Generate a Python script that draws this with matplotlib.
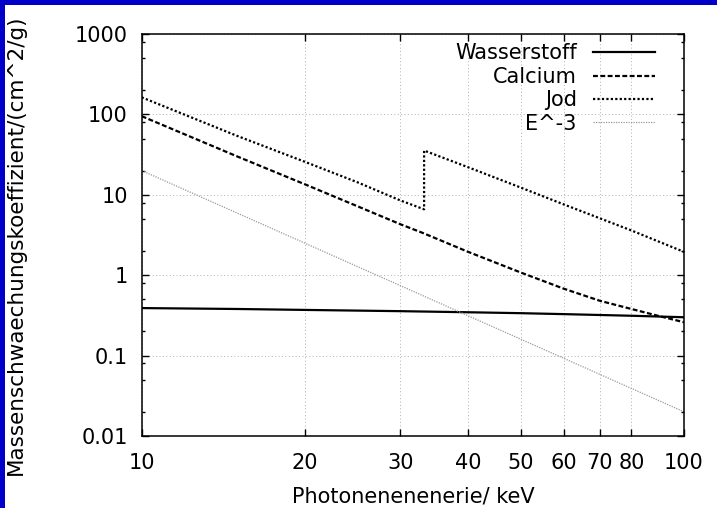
import matplotlib
matplotlib.use("Agg")
import matplotlib.pyplot as plt
from matplotlib.patches import Rectangle
from matplotlib.ticker import FixedLocator, NullFormatter, NullLocator

plt.rcParams['font.family'] = ['DejaVu Sans']

# Mass attenuation coefficients (cm^2/g) vs photon energy (keV)
energy_h = [10, 15, 20, 30, 40, 50, 60, 80, 100]
mu_wasserstoff = [0.39, 0.38, 0.37, 0.357, 0.346, 0.337, 0.328, 0.313, 0.30]

energy_ca = [10, 15, 20, 25, 30, 33, 40, 50, 60, 70, 80, 90, 100]
mu_calcium = [95, 30, 13.5, 7.2, 4.3, 3.35, 1.95, 1.08, 0.68, 0.48, 0.38, 0.31, 0.26]

energy_i = [10, 15, 20, 25, 30, 33.17, 33.17, 40, 50, 60, 80, 100]
mu_jod = [163, 54, 25.7, 14.3, 8.5, 6.6, 35.5, 22, 12.3, 7.6, 3.6, 1.95]

energy_e3 = [10, 100]
mu_e3 = [20, 0.02]

x_ticks = [10, 20, 30, 40, 50, 60, 70, 80, 100]
y_ticks = [0.01, 0.1, 1, 10, 100, 1000]
y_tick_labels = ["0.01", "0.1", "1", "10", "100", "1000"]
y_minor = [m * 10.0 ** k for k in range(-2, 3) for m in (2, 5, 8)]

FS = 15

fig = plt.figure(figsize=(7.17, 5.08), dpi=100)
fig.patch.set_facecolor('white')

# blue frame strips along top and left edges
blue = '#0000c8'
fig.patches.append(Rectangle((0, 1 - 5 / 508), 1, 5 / 508, transform=fig.transFigure,
                             facecolor=blue, edgecolor='none', zorder=0))
fig.patches.append(Rectangle((0, 0), 5 / 717, 1, transform=fig.transFigure,
                             facecolor=blue, edgecolor='none', zorder=0))

ax = fig.add_axes([141.7 / 717, 1 - 436 / 508, (684 - 141.7) / 717, (436 - 34) / 508])
ax.set_xscale('log')
ax.set_yscale('log')
ax.set_xlim(10, 100)
ax.set_ylim(0.01, 1000)

ax.plot(energy_h, mu_wasserstoff, color='black', lw=1.6, label='Wasserstoff')
ax.plot(energy_ca, mu_calcium, color='black', lw=1.6, dashes=(2.2, 1.1), label='Calcium')
ax.plot(energy_i, mu_jod, color='black', lw=1.6, dashes=(1.0, 1.0), label='Jod')
ax.plot(energy_e3, mu_e3, color='#9a9a9a', lw=0.9, dashes=(1.0, 1.0), label='E^-3')

ax.xaxis.set_major_locator(FixedLocator(x_ticks))
ax.xaxis.set_minor_locator(NullLocator())
ax.set_xticklabels([str(v) for v in x_ticks])
ax.yaxis.set_major_locator(FixedLocator(y_ticks))
ax.set_yticklabels(y_tick_labels)
ax.yaxis.set_minor_locator(FixedLocator(y_minor))
ax.yaxis.set_minor_formatter(NullFormatter())

ax.tick_params(which='both', direction='in', top=True, right=True, labelsize=FS, color='black')
ax.tick_params(which='major', length=5, width=1.0)
ax.tick_params(which='minor', length=2.5, width=1.0)
ax.tick_params(axis='x', which='major', pad=12)
ax.tick_params(axis='y', which='major', pad=10)

ax.grid(True, which='major', color='#b0b0b0', lw=0.7, dashes=(1, 2.5))
ax.set_axisbelow(True)
for s in ax.spines.values():
    s.set_linewidth(1.1)

ax.set_xlabel('Photonenenenerie/ keV', fontsize=FS, labelpad=10)
ax.set_ylabel('Massenschwaechungskoeffizient/(cm^2/g)', fontsize=15.5)
ax.yaxis.set_label_coords(-0.213, 0.475)

ax.legend(loc='upper right', frameon=False, markerfirst=False, fontsize=FS,
          handlelength=3.0, handletextpad=0.77, labelspacing=0.165,
          borderaxespad=0.3, bbox_to_anchor=(0.974, 1.013))

fig.savefig('out.png', dpi=100, facecolor='white')
